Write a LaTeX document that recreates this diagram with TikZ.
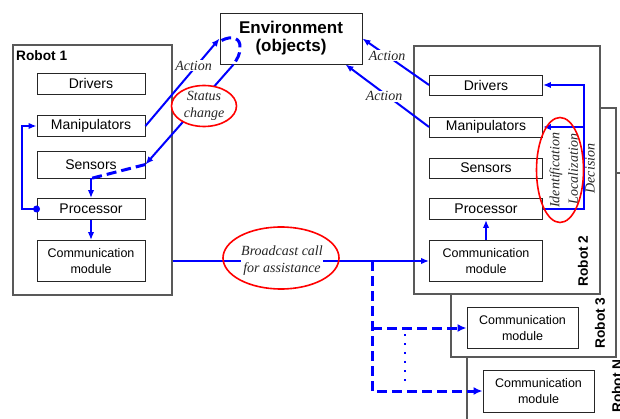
\documentclass[tikz,border=0pt]{standalone}
\usepackage{fontspec}
\setmainfont{Liberation Sans}
\newfontfamily\serifit{Liberation Serif}
\usetikzlibrary{arrows.meta,calc,shapes.geometric}
\begin{document}
\begin{tikzpicture}[x=1pt,y=-1pt,
  box/.style={draw=black!85,line width=0.9pt,fill=white,inner sep=0pt,font=\fontsize{14}{16}\selectfont},
  cbox/.style={box,align=center,font=\fontsize{12.5}{16}\selectfont},
  robot/.style={draw=black!65,line width=1.1pt,fill=white,inner sep=0pt},
  rlabel/.style={font=\bfseries\fontsize{13.7}{16}\selectfont,inner sep=0pt},
  lbl/.style={text=black!85,font=\serifit\itshape\fontsize{14}{17}\selectfont,inner sep=1pt,align=center},
  arr/.style={draw=blue,line width=2pt,-{Latex[length=8pt,width=6.5pt]}},
  tdash/.style={draw=blue,line width=3pt,dash pattern=on 10pt off 5pt},
  tarr/.style={tdash,-{Latex[length=9pt,width=8pt]}},
  redell/.style={draw=red,line width=1.6pt,ellipse,inner sep=0pt}
]
\useasboundingbox (0,0) rectangle (620,419);
\begin{scope}
\clip (0,0) rectangle (620,419);
% robot frames
\node[robot,minimum width=159pt,minimum height=250pt] (R1) at (92.5,170) {};
\node[robot,minimum width=183pt,minimum height=277pt] (RN) at (558.5,311.5) {};
\node[robot,minimum width=165pt,minimum height=249pt] (R3) at (533.5,232.5) {};
\node[robot,minimum width=186pt,minimum height=248pt] (R2) at (507,170) {};

\node[rlabel,anchor=base west] (l1) at (16,61) {Robot 1};
\node[rlabel,rotate=90] (l2) at (583,261) {Robot 2};
\node[rlabel,rotate=90] (l3) at (600,323) {Robot 3};
\node[rlabel,rotate=90] (lN) at (617,386) {Robot N};

% environment
\node[draw=black!85,line width=0.9pt,fill=white,minimum width=142pt,minimum height=51pt,inner sep=0pt,
      align=center,font=\bfseries\fontsize{17}{18}\selectfont] (env) at (291,38.5) {Environment\\(objects)};

% robot 1 modules
\node[box,minimum width=108pt,minimum height=21pt] (d1) at (91,83.5) {Drivers};
\node[box,minimum width=108pt,minimum height=21pt] (m1) at (91,126) {Manipulators};
\node[box,minimum width=108pt,minimum height=27pt] (s1) at (91,164.5) {Sensors};
\node[box,minimum width=108pt,minimum height=21pt] (p1) at (91,209) {Processor};
\node[cbox,minimum width=108pt,minimum height=41pt] (c1) at (91,261) {Communication\\module};

% robot 2 modules
\node[box,minimum width=113pt,minimum height=20pt] (d2) at (486,85) {Drivers};
\node[box,minimum width=113pt,minimum height=20pt] (m2) at (486,127) {Manipulators};
\node[box,minimum width=113pt,minimum height=20pt] (s2) at (486,168) {Sensors};
\node[box,minimum width=113pt,minimum height=21pt] (p2) at (486,209) {Processor};
\node[cbox,minimum width=113pt,minimum height=41pt] (c2) at (486,261) {Communication\\module};

% robot 3 and N
\node[cbox,minimum width=111pt,minimum height=41pt] (c3) at (522.5,328) {Communication\\module};
\node[cbox,minimum width=111pt,minimum height=42pt] (cN) at (538.5,391) {Communication\\module};

% robot 1 connectors
\draw[arr] (m1.east) -- node[lbl,fill=white,pos=0.69,xshift=-3pt] (a1) {Action} (env.west);
\draw[arr] ([xshift=14pt]env.south west) -- (s1.east);
\draw[tdash] ([xshift=2pt,yshift=-2pt]env.west) .. controls (232,35) and (241,38) .. (240,48)
   .. controls (240,55) and (237,59) .. ([xshift=14pt]env.south west);
\draw[tdash] (s1.east) -- (s1.south);
\draw[arr] (s1.south) -- (p1.north);
\draw[arr] (p1.south) -- (c1.north);
\draw[arr] (p1.west) -- ++(-15,0) |- (m1.west);
\fill[blue] (p1.west) circle (3.5pt);

\node[redell,fill=white,minimum width=65pt,minimum height=41pt] (sc) at (204,106) {};
\node[lbl] (sct) at (sc) {Status\\change};

% broadcast
\draw[arr] (R1.east |- c1.east) -- (c2.west);
\node[redell,minimum width=116pt,minimum height=62pt] (bc) at (281,258) {};
\node[lbl,fill=white,inner sep=0.5pt] (bct) at (282,260.5) {Broadcast call\\for assistance};

\coordinate (br) at (372,261);
\draw[tarr] (br) |- (cN.west);
\draw[tarr] (br |- c3.west) -- (c3.west);
\draw[blue,line width=2pt,dash pattern=on 2pt off 7pt] ($(br |- c3.west)+(33,6)$) -- ($(br |- cN.west)+(33,-7)$);

% robot 2 connectors
\draw[arr] (c2.north) -- (p2.south);
\coordinate (lp) at ([xshift=41pt]p2.east);
\draw[arr] (p2.east) -- (lp) |- (d2.east);
\draw[arr] (lp |- m2.east) -- (m2.east);
\draw[arr] (d2.west) -- node[lbl,fill=white,pos=0.63] (a2) {Action} (env.east);
\draw[arr] (m2.west) -- node[lbl,fill=white,pos=0.49,xshift=-4pt] (a3) {Action} ([xshift=-17pt]env.south east);

\node[lbl,rotate=90,inner sep=0pt] (idt) at (556,170) {Identification};
\node[lbl,rotate=90,inner sep=0pt] (loc) at (573,169) {Localization};
\node[lbl,rotate=90,inner sep=0pt] (dec) at (590,168.5) {Decision};
\node[redell,minimum width=47pt,minimum height=105pt] (ie) at (560,170) {};
\end{scope}
\end{tikzpicture}
\end{document}
